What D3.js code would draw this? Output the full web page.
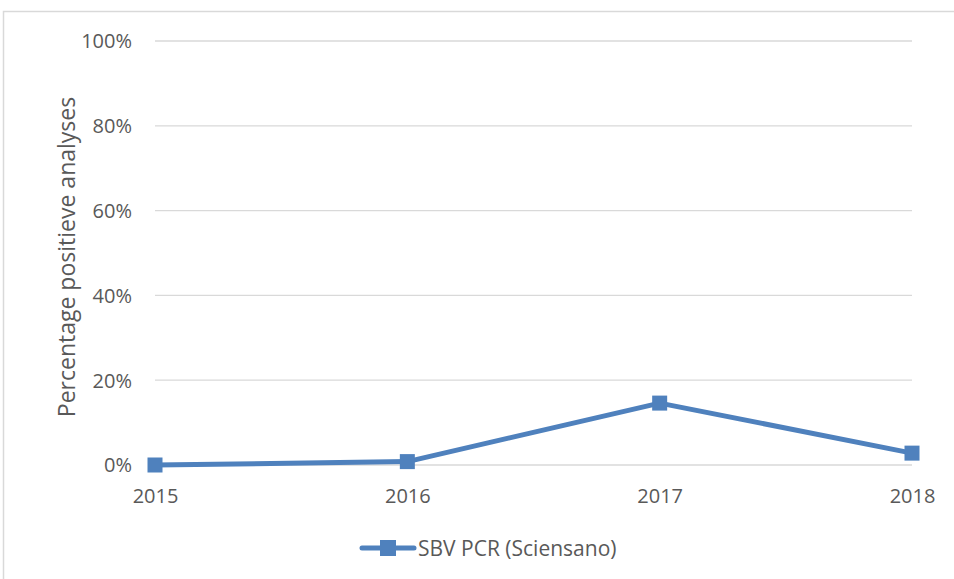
<!DOCTYPE html>
<html>
<head>
<meta charset="utf-8">
<script src="https://cdn.jsdelivr.net/npm/d3@7"></script>
<style>
  body { margin: 0; background: #fff; }
  svg { display: block; font-family: "Open Sans", "Noto Sans", sans-serif; }
</style>
</head>
<body>
<div id="chart"></div>
<script>
// Chart data
const years = ['2015', '2016', '2017', '2018'];
const values = [0, 0.8, 14.6, 2.8];
const yTicks = [0, 20, 40, 60, 80, 100];
const seriesName = 'SBV PCR (Sciensano)';

const width = 954, height = 579;
const margin = { top: 41, right: 42, bottom: 114, left: 155 };
const color = '#4f81bd';
const textColor = '#595959';

const svg = d3.select('#chart').append('svg')
  .attr('width', width)
  .attr('height', height);

// Chart area border
svg.append('rect')
  .attr('x', 3.5).attr('y', 11.5)
  .attr('width', 980).attr('height', 600)
  .attr('fill', 'none')
  .attr('stroke', '#d9d9d9')
  .attr('stroke-width', 1.5);

const x = d3.scalePoint()
  .domain(years)
  .range([margin.left, width - margin.right]);

const y = d3.scaleLinear()
  .domain([0, 100])
  .range([height - margin.bottom, margin.top]);

// Gridlines
svg.append('g')
  .selectAll('line')
  .data(yTicks)
  .join('line')
  .attr('x1', margin.left)
  .attr('x2', width - margin.right)
  .attr('y1', d => y(d))
  .attr('y2', d => y(d))
  .attr('stroke', '#d9d9d9')
  .attr('stroke-width', 1.3);

// Y axis labels
const yAxis = svg.append('g')
  .attr('transform', `translate(${margin.left - 23},0)`)
  .call(d3.axisLeft(y).tickValues(yTicks).tickSize(0).tickFormat(d => d + '%'));
yAxis.select('.domain').remove();
yAxis.selectAll('text')
  .attr('fill', textColor)
  .attr('font-size', '20px')
  .attr('font-family', '"Open Sans", sans-serif')
  .attr('x', 0)
  .attr('dy', '0.34em');

// X axis labels
const xAxis = svg.append('g')
  .attr('transform', `translate(0,${y(0)})`)
  .call(d3.axisBottom(x).tickSize(0));
xAxis.select('.domain').remove();
xAxis.selectAll('text')
  .attr('fill', textColor)
  .attr('font-size', '20px')
  .attr('font-family', '"Open Sans", sans-serif')
  .attr('y', 38)
  .attr('dy', 0);

// Y axis title
svg.append('text')
  .attr('transform', `translate(75,${(y(0) + y(100)) / 2 + 4}) rotate(-90)`)
  .attr('text-anchor', 'middle')
  .attr('fill', textColor)
  .attr('font-size', '23px')
  .text('Percentage positieve analyses');

// Line
const line = d3.line()
  .x((d, i) => x(years[i]))
  .y(d => y(d));

svg.append('path')
  .datum(values)
  .attr('d', line)
  .attr('fill', 'none')
  .attr('stroke', color)
  .attr('stroke-width', 5)
  .attr('stroke-linejoin', 'round');

// Markers
svg.append('g')
  .selectAll('rect')
  .data(values)
  .join('rect')
  .attr('x', (d, i) => x(years[i]) - 7.5)
  .attr('y', d => y(d) - 7.5)
  .attr('width', 15)
  .attr('height', 15)
  .attr('fill', color);

// Legend
const legend = svg.append('g').attr('transform', 'translate(362,548)');
legend.append('line')
  .attr('x1', 0).attr('x2', 52)
  .attr('stroke', color)
  .attr('stroke-width', 5)
  .attr('stroke-linecap', 'round');
legend.append('rect')
  .attr('x', 18).attr('y', -8)
  .attr('width', 16).attr('height', 16)
  .attr('fill', color);
legend.append('text')
  .attr('x', 56).attr('dy', '0.36em')
  .attr('fill', textColor)
  .attr('font-size', '21px')
  .text(seriesName);
</script>
</body>
</html>
